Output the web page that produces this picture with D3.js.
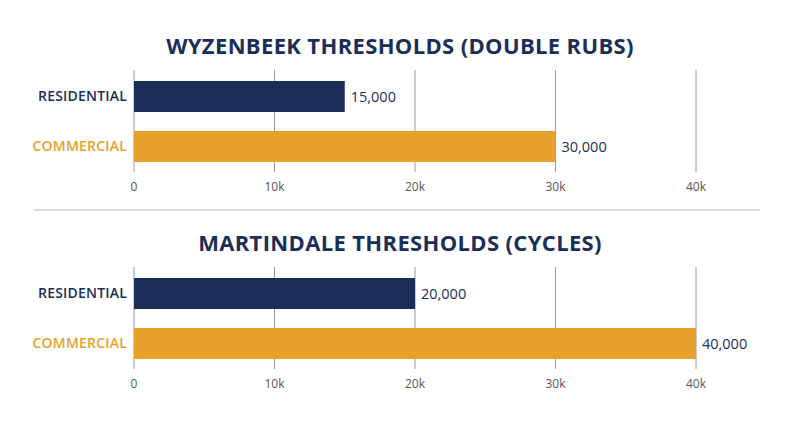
<!DOCTYPE html>
<html lang="en">
<head>
  <meta charset="UTF-8">
  <title>Wyzenbeek and Martindale thresholds</title>
  <script src="https://d3js.org/d3.v7.min.js"></script>
  <style>
    body { margin: 0; background: #fff; }
    text { font-family: "Open Sans", sans-serif; }
  </style>
</head>
<body>
  <script>
    // data
    const categories = ["RESIDENTIAL", "COMMERCIAL"];
    const wyzenbeekValues = [15000, 30000];
    const martindaleValues = [20000, 40000];
    const chartTitles = ["WYZENBEEK THRESHOLDS (DOUBLE RUBS)", "MARTINDALE THRESHOLDS (CYCLES)"];
    const tickValues = [0, 10000, 20000, 30000, 40000];
    const tickLabels = ["0", "10k", "20k", "30k", "40k"];

    const width = 800;
    const height = 447;
    const navy = "#1b2e57";
    const orange = "#e8a12b";
    const colors = [navy, orange];

    const svg = d3.select("body")
      .append("svg")
      .attr("width", width)
      .attr("height", height);

    const x = d3.scaleLinear().domain([0, 40000]).range([134, 696]);

    function drawPanel(top, title, values) {
      const g = svg.append("g").attr("transform", `translate(0, ${top})`);

      g.append("text")
        .attr("x", 400)
        .attr("y", 0)
        .attr("text-anchor", "middle")
        .attr("font-size", 22)
        .attr("font-weight", 700)
        .attr("letter-spacing", 0.35)
        .attr("fill", navy)
        .text(title);

      // band: 31px bars, 50px step
      const y = d3.scaleBand()
        .domain(categories)
        .range([16, 119])
        .paddingInner(0.38)
        .paddingOuter(0.22);

      // grid lines
      g.selectAll("line.grid")
        .data(tickValues)
        .enter()
        .append("line")
        .attr("x1", d => x(d))
        .attr("x2", d => x(d))
        .attr("y1", 16)
        .attr("y2", 118)
        .attr("stroke", "#9a9a9a")
        .attr("stroke-width", 1);

      // bars
      g.selectAll("rect")
        .data(values)
        .enter()
        .append("rect")
        .attr("x", x(0))
        .attr("y", (d, i) => y(categories[i]))
        .attr("width", d => x(d) - x(0))
        .attr("height", y.bandwidth())
        .attr("fill", (d, i) => colors[i]);

      // category labels
      g.selectAll("text.cat")
        .data(categories)
        .enter()
        .append("text")
        .attr("x", 127)
        .attr("y", d => y(d) + y.bandwidth() / 2)
        .attr("dy", "0.35em")
        .attr("text-anchor", "end")
        .attr("font-size", 14)
        .attr("font-weight", 600)
        .attr("letter-spacing", 0.2)
        .attr("fill", (d, i) => colors[i])
        .text(d => d);

      // value labels
      g.selectAll("text.val")
        .data(values)
        .enter()
        .append("text")
        .attr("x", d => x(d) + 6)
        .attr("y", (d, i) => y(categories[i]) + y.bandwidth() / 2)
        .attr("dy", "0.35em")
        .attr("font-size", 14.5)
        .attr("fill", navy)
        .text(d => d3.format(",")(d));

      // tick labels
      g.selectAll("text.tick")
        .data(tickValues)
        .enter()
        .append("text")
        .attr("x", d => x(d))
        .attr("y", 133)
        .attr("dy", "0.35em")
        .attr("text-anchor", "middle")
        .attr("font-size", 12)
        .attr("fill", "#555")
        .text((d, i) => tickLabels[i]);
    }

    drawPanel(54, chartTitles[0], wyzenbeekValues);
    drawPanel(251, chartTitles[1], martindaleValues);

    // separator
    svg.append("line")
      .attr("x1", 34)
      .attr("x2", 760)
      .attr("y1", 210)
      .attr("y2", 210)
      .attr("stroke", "#b5b5b5")
      .attr("stroke-width", 1.2);
  </script>
</body>
</html>
